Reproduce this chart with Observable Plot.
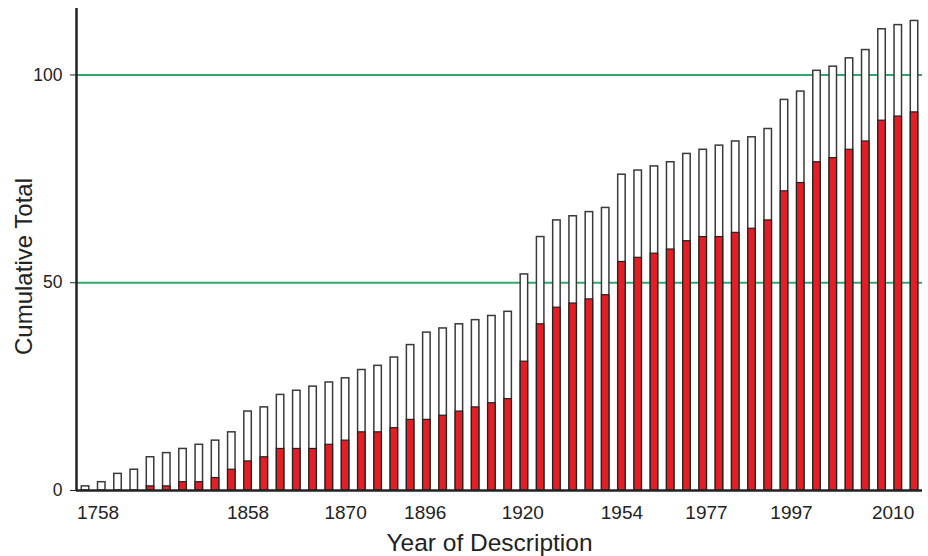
<!DOCTYPE html>
<html>
<head>
<meta charset="utf-8">
<script src="https://cdn.jsdelivr.net/npm/d3@7"></script>
<script src="https://cdn.jsdelivr.net/npm/@observablehq/plot@0.6"></script>
<style>
  html, body { margin: 0; padding: 0; background: #fff; }
</style>
</head>
<body>
<div id="chart"></div>
<script>
// Cumulative total per bar (white bars, outline)
const totals = [1, 2, 4, 5, 8, 9, 10, 11, 12, 14,
                19, 20, 23, 24, 25, 26, 27, 29, 30, 32,
                35, 38, 39, 40, 41, 42, 43, 52, 61, 65,
                66, 67, 68, 76, 77, 78, 79, 81, 82, 83,
                84, 85, 87, 94, 96, 101, 102, 104, 106, 111,
                112, 113];
// Red portion of each bar
const redPart = [0, 0, 0, 0, 1, 1, 2, 2, 3, 5,
                 7, 8, 10, 10, 10, 11, 12, 14, 14, 15,
                 17, 17, 18, 19, 20, 21, 22, 31, 40, 44,
                 45, 46, 47, 55, 56, 57, 58, 60, 61, 61,
                 62, 63, 65, 72, 74, 79, 80, 82, 84, 89,
                 90, 91];
// Year labels on the x axis and the bar position (index) they sit at
const tickLabels = ["1758", "1858", "1870", "1896", "1920", "1954", "1977", "1997", "2010"];
const tickAt = [0.77, 10, 16, 20.9, 26.9, 33, 38.2, 43.43, 49.68];
const yTicks = [0, 50, 100];
const gridValues = [50, 100];

const data = totals.map((t, i) => ({ i, total: t, red: redPart[i] }));
const labelAt = new Map(tickAt.map((p, k) => [p, tickLabels[k]]));
const hw = 0.23;
const xMin = -0.554, xMax = 51.49;

const chart = Plot.plot({
  width: 928,
  height: 556,
  marginLeft: 76,
  marginRight: 6,
  marginTop: 8,
  marginBottom: 66,
  style: { fontFamily: "'Liberation Sans', Arial, Helvetica, sans-serif", color: "#222", background: "#fff" },
  x: { type: "linear", domain: [xMin, xMax], axis: null },
  y: { domain: [0, 116], axis: null },
  marks: [
    Plot.ruleY(gridValues, { stroke: "#2fa86b", strokeWidth: 2 }),
    Plot.rectY(data, { x1: d => d.i - hw, x2: d => d.i + hw, y1: 0, y2: "total", fill: "#fff", stroke: "#3a3a3a", strokeWidth: 1.5 }),
    Plot.rectY(data.filter(d => d.red > 0), { x1: d => d.i - hw, x2: d => d.i + hw, y1: 0, y2: "red", fill: "#e31e25", stroke: "#222", strokeWidth: 1.2 }),
    Plot.ruleY([0], { stroke: "#222", strokeWidth: 2.5 }),
    Plot.ruleX([xMin], { stroke: "#222", strokeWidth: 2.5 }),
    Plot.axisY({ ticks: yTicks, tickSize: 6, tickPadding: 8, fontSize: 17.5, label: null }),
    Plot.axisX({ ticks: tickAt, tickFormat: d => labelAt.get(d), tickSize: 0, tickPadding: 15, fontSize: 19, label: null }),
    Plot.text(["Cumulative Total"], { text: d => d, frameAnchor: "left", textAnchor: "middle", dx: -52, dy: 17, rotate: -90, fontSize: 24 }),
    Plot.text(["Year of Description"], { text: d => d, frameAnchor: "bottom", textAnchor: "middle", dx: -10, dy: 60, fontSize: 24.5 })
  ]
});
document.getElementById("chart").appendChild(chart);
</script>
</body>
</html>
